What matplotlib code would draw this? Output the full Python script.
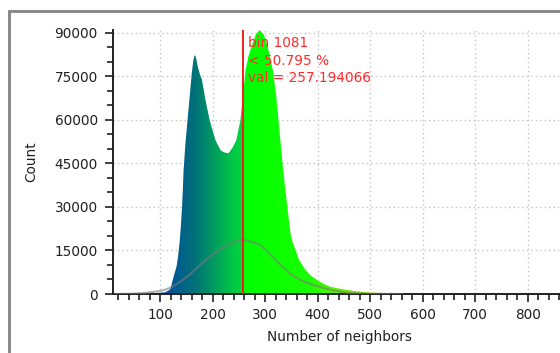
import numpy as np
import matplotlib
matplotlib.use("Agg")
import matplotlib.pyplot as plt
from matplotlib.colors import LinearSegmentedColormap
from matplotlib.patches import Rectangle
from matplotlib.ticker import MultipleLocator

# histogram (Number of neighbors -> Count)
hist_x = [15, 60, 81, 95, 110, 118, 120, 123, 127, 131, 134, 137, 139.5, 141.5, 143, 144.5,
          148, 152, 156, 160, 163, 165.5, 168, 172, 176, 179.5, 186, 194, 205, 215, 222,
          230, 238, 245, 252.7, 257, 262, 268, 275, 282, 289.5, 297, 303.6, 310, 315, 321,
          326, 332, 337, 342, 348, 352, 357.6, 365, 376.7, 387, 399, 410, 424, 440, 456,
          475, 500, 550, 600, 650]
hist_y = [0, 80, 200, 350, 600, 1500, 2000, 4300, 7000, 9400, 13000, 18000, 24000, 30000,
          36000, 42800, 52000, 60000, 68000, 76000, 80500, 82400, 81500, 78000, 75500, 73800,
          67000, 60000, 53100, 49500, 48800, 48500, 50500, 53100, 60000, 67000, 76700, 82000,
          85900, 89500, 91000, 89500, 85900, 81000, 76700, 68000, 58300, 46800, 38000, 30100,
          21000, 18000, 15200, 11500, 8300, 6300, 4800, 3600, 2500, 1900, 1400, 900, 500,
          150, 30, 0]

# fitted curve (gray)
fit_x = [15, 40, 62, 75, 88, 100, 113, 125, 138, 151, 164, 176, 192, 208, 224, 240, 250,
         257, 265, 278, 291, 310, 329, 348, 367, 385, 403, 430, 456, 480, 500, 560]
fit_y = [0, 80, 250, 500, 750, 1000, 1700, 2760, 4200, 6000, 8000, 10000, 12500, 14600,
         16500, 18000, 18500, 18600, 18400, 17800, 16900, 13500, 10000, 6900, 4800, 3500,
         2500, 1200, 450, 200, 80, 0]

cursor_val = 257.194066
cursor_text = "bin 1081\n< 50.795 %\nval = 257.194066"

x_ticks = [100, 200, 300, 400, 500, 600, 700, 800]
y_ticks = [0, 15000, 30000, 45000, 60000, 75000, 90000]

fig = plt.figure(figsize=(5.6, 3.53), dpi=100)
fig.patch.set_facecolor("white")

# outer widget frame
fig.patches.append(Rectangle((8 / 560, -0.1), 3 / 560, 1 - 10 / 353 + 0.1, transform=fig.transFigure,
                             facecolor="#8a8a8a", edgecolor="none", zorder=0))
fig.patches.append(Rectangle((8 / 560, 1 - 13 / 353), 1.0, 3 / 353, transform=fig.transFigure,
                             facecolor="#8a8a8a", edgecolor="none", zorder=0))

ax = fig.add_axes([113 / 560, 1 - 294 / 353, 1 - 113 / 560 + 0.01, (294 - 30) / 353])
ax.set_facecolor("none")
xmin, xmax = 10, 872
ax.set_xlim(xmin, xmax)
ax.set_ylim(0, 91000)

ax.grid(True, color="#c4c4c4", linestyle=(0, (1, 2.2)), linewidth=1.0, zorder=0)
ax.set_axisbelow(True)

cmap = LinearSegmentedColormap.from_list("hg", [
    (0.00, "#1a2ea8"),
    ((80 - 10) / 862, "#1a38a8"),
    ((130 - 10) / 862, "#005c90"),
    ((165 - 10) / 862, "#007278"),
    ((200 - 10) / 862, "#009a60"),
    ((230 - 10) / 862, "#00bf4a"),
    ((256 - 10) / 862, "#00d83a"),
    ((258.5 - 10) / 862, "#00ff00"),
    ((380 - 10) / 862, "#18ff00"),
    ((440 - 10) / 862, "#60f000"),
    ((500 - 10) / 862, "#98e000"),
    ((580 - 10) / 862, "#c0d000"),
    (1.00, "#d0c000"),
])

poly = ax.fill_between(hist_x, hist_y, 0, color="none", linewidth=0, zorder=2)
grad = np.linspace(0, 1, 1200).reshape(1, -1)
im = ax.imshow(grad, cmap=cmap, aspect="auto", extent=[xmin, xmax, 0, 91000],
               origin="lower", zorder=2, interpolation="bilinear")
path = poly.get_paths()[0]
im.set_clip_path(path, transform=ax.transData)
ax.set_xlim(xmin, xmax)
ax.set_ylim(0, 91000)

ax.plot(fit_x, fit_y, color="#7a7a7a", alpha=0.6, linewidth=1.5, zorder=3)

ax.axvline(cursor_val, color="#f02020", linewidth=1.4, zorder=4)
ax.annotate(cursor_text, xy=(cursor_val, 1.0), xycoords=("data", "axes fraction"),
            xytext=(5.5, -6), textcoords="offset pixels", ha="left", va="top",
            color="#ff2a2a", fontsize=9.8, linespacing=1.32, zorder=5)

for s in ["top", "right"]:
    ax.spines[s].set_visible(False)
for s in ["left", "bottom"]:
    ax.spines[s].set_linewidth(1.4)
    ax.spines[s].set_color("#202020")

ax.set_xticks(x_ticks)
ax.set_yticks(y_ticks)
ax.xaxis.set_minor_locator(MultipleLocator(20))
ax.yaxis.set_minor_locator(MultipleLocator(5000))
ax.tick_params(axis="both", which="major", direction="out", length=6, width=1.2,
               color="#202020", labelsize=9.8, labelcolor="#202020", pad=3)
ax.tick_params(axis="both", which="minor", direction="out", length=4, width=1.2,
               color="#202020")
ax.tick_params(axis="y", which="major", pad=5)
ax.tick_params(axis="x", which="major", pad=4)

ax.set_xlabel("Number of neighbors", fontsize=9.8, color="#202020", labelpad=6)
ax.set_ylabel("Count", fontsize=9.8, color="#202020", labelpad=12)

fig.savefig("out.png", dpi=100)
